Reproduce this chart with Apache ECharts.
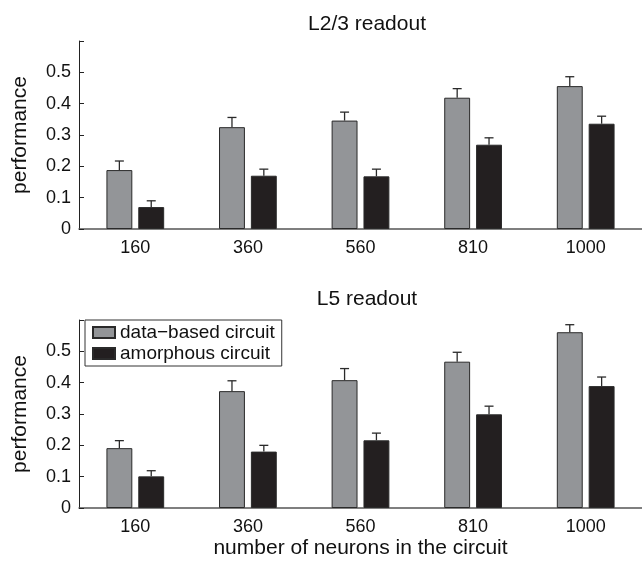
<!DOCTYPE html>
<html><head><meta charset="utf-8">
<script src="https://cdn.jsdelivr.net/npm/echarts@6/dist/echarts.min.js"></script>
<style>html,body{margin:0;padding:0;background:#fff}#c{width:642px;height:561px}</style>
</head><body><div id="c"></div>
<script>
const categories = ['160', '360', '560', '810', '1000'];
const seriesNames = ['data\u2212based circuit', 'amorphous circuit'];
const l23Data = [0.188, 0.325, 0.346, 0.419, 0.456];
const l23DataErr = [0.029, 0.031, 0.027, 0.029, 0.030];
const l23Amor = [0.070, 0.170, 0.168, 0.269, 0.336];
const l23AmorErr = [0.020, 0.021, 0.023, 0.022, 0.024];
const l5Data = [0.191, 0.373, 0.408, 0.467, 0.561];
const l5DataErr = [0.024, 0.033, 0.037, 0.030, 0.024];
const l5Amor = [0.101, 0.180, 0.216, 0.299, 0.389];
const l5AmorErr = [0.018, 0.020, 0.023, 0.026, 0.029];
const yTicks = [0, 0.1, 0.2, 0.3, 0.4, 0.5];
const panelTitles = ['L2/3 readout', 'L5 readout'];

const FONT = 'Liberation Sans, Arial, Helvetica, sans-serif';
const GRAY = '#939598', DARK = '#231f20', EDGE = '#2a2a2a';
const BARW = 0.23, GAPR = 0.23;

function errSeries(name, vals, errs, idx, side) {
  return {
    type: 'custom', xAxisIndex: idx, yAxisIndex: idx, silent: true, z: 5,
    data: vals.map((v, i) => [i, v, v + errs[i]]),
    renderItem: function (params, api) {
      const band = api.size([1, 0])[0];
      const bw = band * BARW;
      const off = side * (bw + bw * GAPR) / 2;
      const p0 = api.coord([api.value(0), api.value(1)]);
      const p1 = api.coord([api.value(0), api.value(2)]);
      const x = p0[0] + off;
      const st = { stroke: EDGE, lineWidth: 1.3 };
      return { type: 'group', children: [
        { type: 'line', shape: { x1: x, y1: p0[1], x2: x, y2: p1[1] }, style: st },
        { type: 'line', shape: { x1: x - 4.5, y1: p1[1], x2: x + 4.5, y2: p1[1] }, style: st }
      ]};
    }
  };
}
function barSeries(name, vals, idx, color) {
  return {
    name: name, type: 'bar', xAxisIndex: idx, yAxisIndex: idx,
    data: vals, barWidth: (BARW * 100) + '%', barGap: (GAPR * 100) + '%',
    itemStyle: { color: color, borderColor: EDGE, borderWidth: 1 },
    emphasis: { disabled: true }
  };
}
function xAx(idx, withName) {
  const a = {
    type: 'category', gridIndex: idx, data: categories,
    axisLine: { lineStyle: { color: '#555', width: 1.5 } },
    axisTick: { inside: true, alignWithLabel: true, length: 5, lineStyle: { color: '#555' } },
    axisLabel: { color: '#111', fontSize: 18, fontFamily: FONT, margin: 10 }
  };
  if (withName) {
    a.name = 'number of neurons in the circuit';
    a.nameLocation = 'middle'; a.nameGap = 30;
    a.nameTextStyle = { color: '#111', fontSize: 21, fontFamily: FONT };
  }
  return a;
}
function yAx(idx) {
  return {
    type: 'value', gridIndex: idx, min: 0, max: 0.6, interval: 0.1,
    name: 'performance', nameLocation: 'middle', nameGap: 48,
    nameTextStyle: { color: '#111', fontSize: 21, fontFamily: FONT },
    splitLine: { show: false },
    axisLine: { show: true, lineStyle: { color: '#222', width: 1 } },
    axisTick: { show: true, inside: true, length: 5, lineStyle: { color: '#222' } },
    axisLabel: { color: '#111', fontSize: 18, fontFamily: FONT, margin: 8,
      formatter: v => (yTicks.some(t => Math.abs(t - v) < 1e-9) ? String(Math.round(v * 10) / 10) : '') }
  };
}

const chart = echarts.init(document.getElementById('c'), null, { renderer: 'canvas' });
chart.setOption({
  animation: false,
  backgroundColor: '#fff',
  title: [
    { text: panelTitles[0], left: 362, top: 9, textAlign: 'center',
      textStyle: { fontSize: 21, fontWeight: 'normal', color: '#111', fontFamily: FONT } },
    { text: panelTitles[1], left: 362, top: 284, textAlign: 'center',
      textStyle: { fontSize: 21, fontWeight: 'normal', color: '#111', fontFamily: FONT } }
  ],
  legend: {
    data: seriesNames, orient: 'vertical', left: 85, top: 320, icon: 'rect',
    backgroundColor: '#fff', borderColor: '#333', borderWidth: 1,
    padding: [3, 7, 3, 7], itemGap: 2, itemWidth: 22, itemHeight: 11,
    textStyle: { fontSize: 19, color: '#111', fontFamily: FONT },
    selectedMode: false
  },
  grid: [
    { left: 79, top: 41, width: 566, height: 188 },
    { left: 79, top: 320, width: 566, height: 188 }
  ],
  xAxis: [xAx(0, false), xAx(1, true)],
  yAxis: [yAx(0), yAx(1)],
  series: [
    barSeries(seriesNames[0], l23Data, 0, GRAY),
    barSeries(seriesNames[1], l23Amor, 0, DARK),
    errSeries(seriesNames[0], l23Data, l23DataErr, 0, -1),
    errSeries(seriesNames[1], l23Amor, l23AmorErr, 0, 1),
    barSeries(seriesNames[0], l5Data, 1, GRAY),
    barSeries(seriesNames[1], l5Amor, 1, DARK),
    errSeries(seriesNames[0], l5Data, l5DataErr, 1, -1),
    errSeries(seriesNames[1], l5Amor, l5AmorErr, 1, 1)
  ]
});
</script></body></html>
